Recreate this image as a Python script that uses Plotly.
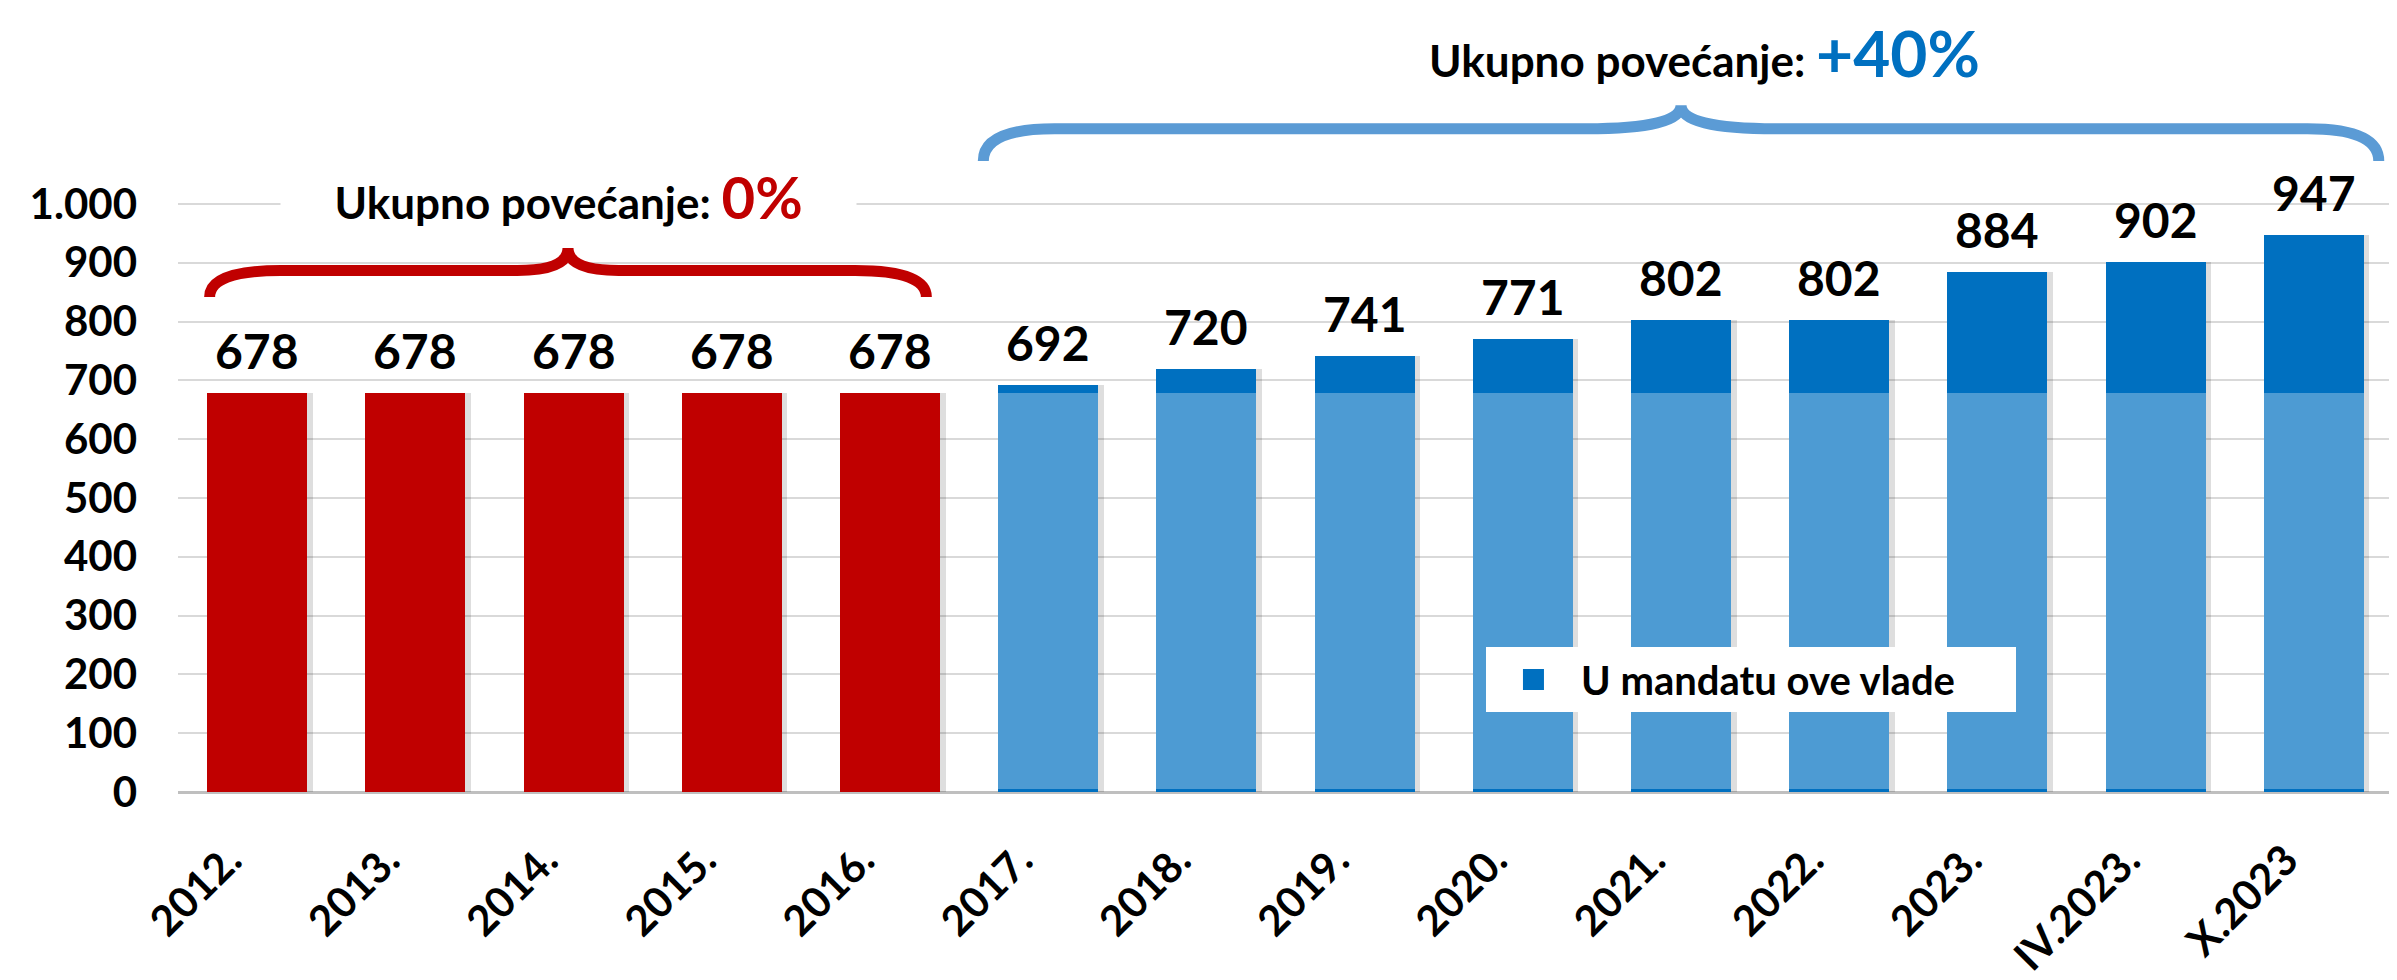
import plotly.graph_objects as go

# ---------------- data ----------------
categories = ["2012.", "2013.", "2014.", "2015.", "2016.", "2017.", "2018.",
              "2019.", "2020.", "2021.", "2022.", "2023.", "IV.2023.", "X.2023"]
totals = [678, 678, 678, 678, 678, 692, 720, 741, 771, 802, 802, 884, 902, 947]
period_before = [True, True, True, True, True] + [False] * 9   # red period
base_value = 678
base_strip = 5            # thin dark-blue strip visible at the foot of the blue bars
legend_name = "U mandatu ove vlade"
y_tick_values = [0, 100, 200, 300, 400, 500, 600, 700, 800, 900, 1000]
y_tick_labels = ["0", "100", "200", "300", "400", "500", "600", "700", "800", "900", "1.000"]
brace_red_text = "Ukupno povećanje: "
brace_red_pct = "0%"
brace_blue_text = "Ukupno povećanje: "
brace_blue_pct = "+40%"

# ---------------- derived series ----------------
red_vals = [t if b else None for t, b in zip(totals, period_before)]
strip_vals = [None if b else base_strip for b in period_before]
light_vals = [None if b else base_value - base_strip for b in period_before]
inc_vals = [None if b else t - base_value for t, b in zip(totals, period_before)]

RED = "#C00000"
LIGHT = "#4D9BD3"
DARK = "#0070C0"
FONT = "Lato"
BARGAP = 0.368
BW = 1 - BARGAP

fig = go.Figure()
# soft shadow (main axis, below the bars)
fig.add_trace(go.Bar(x=categories, y=totals, xaxis="x", yaxis="y",
                     width=BW, offset=-BW / 2 + 0.035,
                     marker=dict(color="rgba(0,0,0,0.13)", line_width=0),
                     showlegend=False, hoverinfo="skip"))
# real bars on an overlaying category axis
for vals, col in [(red_vals, RED), (strip_vals, DARK), (light_vals, LIGHT), (inc_vals, DARK)]:
    fig.add_trace(go.Bar(x=categories, y=vals, xaxis="x2", yaxis="y",
                         marker=dict(color=col, line_width=0),
                         showlegend=False, hoverinfo="skip"))
# legend entry
fig.add_trace(go.Scatter(x=[None], y=[None], mode="markers", name=legend_name,
                         xaxis="x2", yaxis="y",
                         marker=dict(symbol="square", size=16, color=DARK,
                                     line=dict(width=5, color=DARK))))

# value labels
for i, t in enumerate(totals):
    fig.add_annotation(x=i, y=t, xref="x", yref="y", text=str(t), showarrow=False,
                       yanchor="bottom", yshift=12,
                       font=dict(family=FONT, size=48, color="black", weight="bold"))

# braces (x in category index units, y in data units)
def brace_path(x0, x1, xm, y_end, y_h, y_tip, r_end, r_mid):
    return (f"M {x0},{y_end} Q {x0},{y_h} {x0 + r_end},{y_h} "
            f"L {xm - r_mid},{y_h} Q {xm},{y_h} {xm},{y_tip} "
            f"Q {xm},{y_h} {xm + r_mid},{y_h} L {x1 - r_end},{y_h} "
            f"Q {x1},{y_h} {x1},{y_end}")

fig.add_shape(type="path", xref="x", yref="y",
              path=brace_path(-0.30, 4.23, 1.965, 842, 887, 925, 0.45, 0.32),
              line=dict(color=RED, width=11))
fig.add_shape(type="path", xref="x", yref="y",
              path=brace_path(4.59, 13.41, 9.0, 1073, 1128, 1168, 0.45, 0.6),
              line=dict(color="#5B9BD5", width=11))

nb = "\u00a0" * 5
fig.add_annotation(x=1.97, y=1012, xref="x", yref="y", showarrow=False,
                   bgcolor="white", borderpad=0,
                   text=(f"{nb}{brace_red_text}<span style='color:{RED};font-size:58px'>"
                         f"{brace_red_pct}</span>{nb}"),
                   font=dict(family=FONT, size=44, color="black", weight="bold"))
fig.add_annotation(x=9.15, y=1258, xref="x", yref="y", showarrow=False,
                   text=(f"{brace_blue_text}<span style='color:{DARK};font-size:64px'>"
                         f"{brace_blue_pct}</span>"),
                   font=dict(family=FONT, size=44, color="black", weight="bold"))

axis_common = dict(type="category", range=[-0.5, 13.5], showgrid=False,
                   showline=False, ticks="")
fig.update_layout(
    width=2397, height=980,
    margin=dict(l=170, r=12, t=0, b=196),
    barmode="stack", bargap=BARGAP,
    plot_bgcolor="white", paper_bgcolor="white",
    font=dict(family=FONT, color="black"),
    legend=dict(x=0.5905, y=0.185, xanchor="left", yanchor="top",
                orientation="h", entrywidth=430, itemwidth=85,
                bgcolor="white", font=dict(family=FONT, size=40, weight="bold")),
    xaxis=dict(**axis_common, tickangle=-45,
               tickfont=dict(family=FONT, size=42, weight="bold"),
               ticklabelstandoff=34, ticklabelshift=-28),
    xaxis2=dict(**axis_common, overlaying="x", matches="x", showticklabels=False),
    yaxis=dict(range=[0, 1333.3], tickvals=y_tick_values, ticktext=y_tick_labels,
               tickfont=dict(family=FONT, size=42, weight="bold"),
               ticklabelstandoff=40, gridcolor="#D9D9D9", gridwidth=2,
               zeroline=True, zerolinecolor="#BFBFBF", zerolinewidth=3,
               showline=False, ticks=""),
)

fig.write_html("out.html")
